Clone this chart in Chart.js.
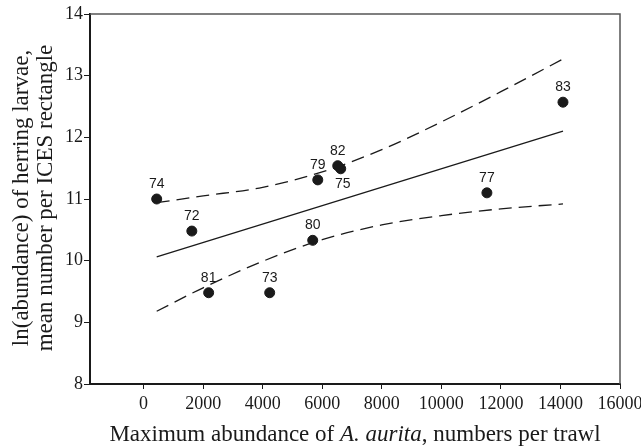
<!DOCTYPE html>
<html>
<head>
<meta charset="utf-8">
<script src="https://cdn.jsdelivr.net/npm/chart.js@4.4.0/dist/chart.umd.min.js"></script>
<style>
    html, body { margin: 0; padding: 0; background: #fff; }
    #wrap { width: 641px; height: 447px; position: relative; }
</style>
</head>
<body>
<div id="wrap"><canvas id="chart"></canvas></div>
<script>
// Observed years (labels) and values
const years = ['74', '72', '81', '73', '80', '79', '82', '75', '77', '83'];
const abundanceX = [440, 1620, 2185, 4235, 5680, 5850, 6520, 6620, 11530, 14085];
const larvaeY = [11.0, 10.48, 9.48, 9.48, 10.33, 11.31, 11.54, 11.49, 11.10, 12.57];
// where each label sits relative to its dot
const labelBelow = [false, false, false, false, false, false, false, true, false, false];

// Regression line
const fitX = [440, 14085];
const fitY = [10.06, 12.10];

// Confidence band
const ciX = [440, 2000, 4000, 6000, 8000, 10000, 12000, 14085];
const ciUpper = [10.94, 11.05, 11.19, 11.44, 11.80, 12.25, 12.74, 13.27];
const ciLower = [9.18, 9.56, 9.99, 10.34, 10.58, 10.73, 10.84, 10.92];

// Axis ticks
const xTicks = [0, 2000, 4000, 6000, 8000, 10000, 12000, 14000, 16000];
const yTicks = [8, 9, 10, 11, 12, 13, 14];

const ink = '#1a1a1a';
const serif = '"Liberation Serif", "Times New Roman", serif';
const sans = '"Liberation Sans", Arial, sans-serif';

function toPoints(xs, ys) {
    return xs.map((x, i) => ({ x: x, y: ys[i] }));
}

// labels, frame and axis titles
const decorations = {
    id: 'decorations',
    afterDatasetsDraw(chart) {
        const ctx = chart.ctx;
        const xs = chart.scales.x;
        const ys = chart.scales.y;
        const area = chart.chartArea;

        // year labels next to dots
        ctx.save();
        ctx.fillStyle = ink;
        ctx.font = '14px ' + sans;
        ctx.textAlign = 'center';
        ctx.textBaseline = 'middle';
        years.forEach((lab, i) => {
            const px = xs.getPixelForValue(abundanceX[i]);
            const py = ys.getPixelForValue(larvaeY[i]);
            if (labelBelow[i]) {
                ctx.fillText(lab, px + 2, py + 15);
            } else {
                ctx.fillText(lab, px, py - 15);
            }
        });
        ctx.restore();

        // top and right edges of the frame
        ctx.save();
        ctx.strokeStyle = '#555';
        ctx.lineWidth = 1.5;
        ctx.beginPath();
        ctx.moveTo(area.left, area.top);
        ctx.lineTo(area.right, area.top);
        ctx.lineTo(area.right, area.bottom);
        ctx.stroke();
        ctx.restore();

        // y title (two lines, rotated)
        ctx.save();
        ctx.fillStyle = ink;
        ctx.font = '23px ' + serif;
        ctx.textAlign = 'center';
        ctx.textBaseline = 'middle';
        ctx.translate(22, 198);
        ctx.rotate(-Math.PI / 2);
        ctx.fillText('ln(abundance) of herring larvae,', 0, 0);
        ctx.fillText('mean number per ICES rectangle', 0, 24);
        ctx.restore();

        // x title with italic species name
        ctx.save();
        ctx.fillStyle = ink;
        ctx.textBaseline = 'alphabetic';
        const parts = [
            ['Maximum abundance of ', '23px ' + serif],
            ['A. aurita', 'italic 23px ' + serif],
            [', numbers per trawl', '23px ' + serif]
        ];
        let total = 0;
        parts.forEach(p => { ctx.font = p[1]; total += ctx.measureText(p[0]).width; });
        let tx = (area.left + area.right) / 2 - total / 2;
        parts.forEach(p => {
            ctx.font = p[1];
            ctx.textAlign = 'left';
            ctx.fillText(p[0], tx, 441);
            tx += ctx.measureText(p[0]).width;
        });
        ctx.restore();
    }
};

const chart = new Chart(document.getElementById('chart'), {
    type: 'scatter',
    data: {
        datasets: [{
            label: 'years',
            data: toPoints(abundanceX, larvaeY),
            backgroundColor: ink,
            borderColor: ink,
            pointRadius: 5,
            pointHoverRadius: 5,
            order: 0
        }, {
            label: 'fit',
            type: 'line',
            data: toPoints(fitX, fitY),
            borderColor: ink,
            borderWidth: 1.3,
            pointRadius: 0,
            fill: false,
            order: 1
        }, {
            label: 'upper',
            type: 'line',
            data: toPoints(ciX, ciUpper),
            borderColor: ink,
            borderWidth: 1.3,
            borderDash: [13, 7],
            pointRadius: 0,
            cubicInterpolationMode: 'monotone',
            fill: false,
            order: 1
        }, {
            label: 'lower',
            type: 'line',
            data: toPoints(ciX, ciLower),
            borderColor: ink,
            borderWidth: 1.3,
            borderDash: [13, 7],
            pointRadius: 0,
            cubicInterpolationMode: 'monotone',
            fill: false,
            order: 1
        }]
    },
    options: {
        responsive: true,
        maintainAspectRatio: false,
        animation: false,
        events: [],
        layout: { padding: { top: 14, right: 21, left: 0, bottom: 0 } },
        plugins: {
            legend: { display: false },
            tooltip: { enabled: false }
        },
        scales: {
            x: {
                type: 'linear',
                min: -1800,
                max: 16000,
                afterBuildTicks: s => { s.ticks = xTicks.map(v => ({ value: v })); },
                afterFit: s => { s.height = 63; s.paddingLeft = 0; s.paddingRight = 0; },
                border: { display: true, color: ink, width: 2 },
                grid: { drawOnChartArea: false, drawTicks: true, tickLength: 5, color: ink },
                ticks: {
                    color: ink,
                    font: { family: serif, size: 18 },
                    padding: 4,
                    maxRotation: 0,
                    autoSkip: false,
                    callback: v => String(v)
                }
            },
            y: {
                min: 8,
                max: 14,
                afterBuildTicks: s => { s.ticks = yTicks.map(v => ({ value: v })); },
                afterFit: s => { s.width = 90; s.paddingTop = 0; s.paddingBottom = 0; },
                border: { display: true, color: ink, width: 2 },
                grid: { drawOnChartArea: false, drawTicks: true, tickLength: 6, color: ink },
                ticks: {
                    color: ink,
                    font: { family: serif, size: 18 },
                    padding: 1,
                    callback: v => String(v)
                }
            }
        }
    },
    plugins: [decorations]
});
</script>
</body>
</html>
